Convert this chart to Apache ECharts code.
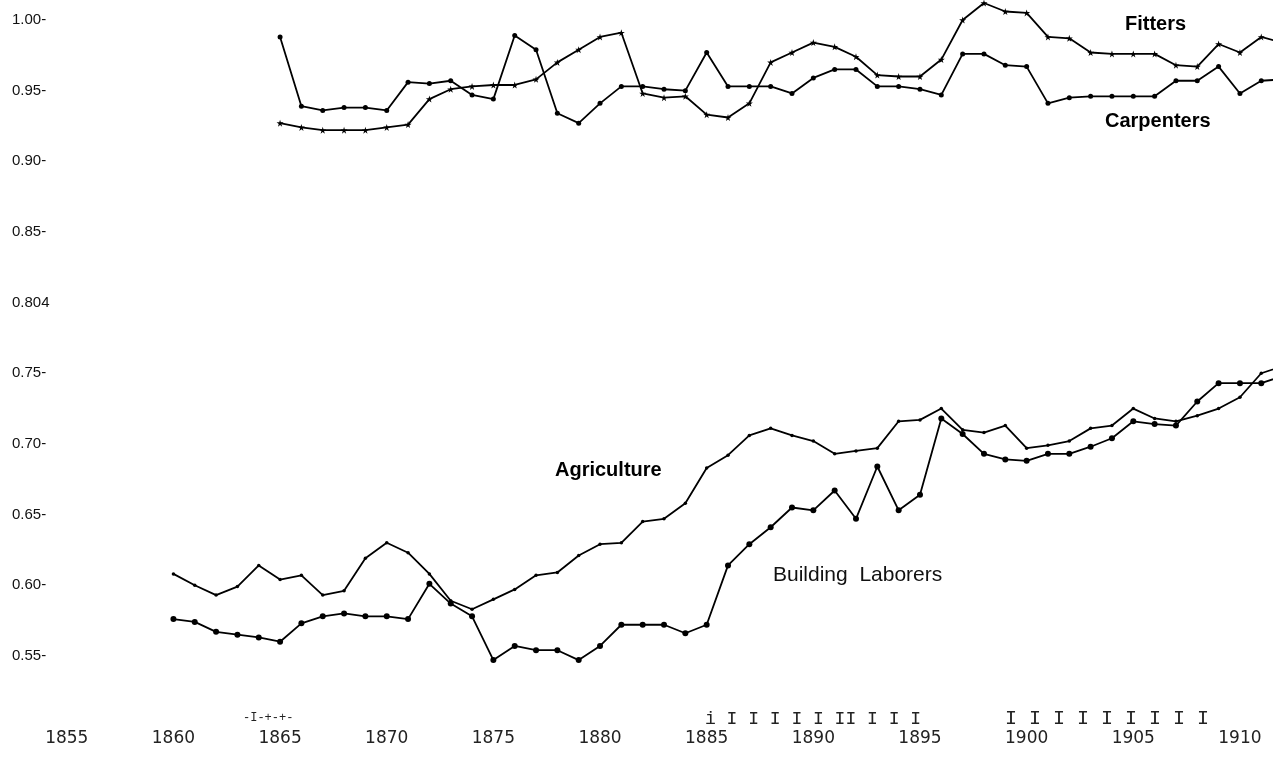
<!DOCTYPE html>
<html>
<head>
<meta charset="utf-8">
<script src="https://cdn.jsdelivr.net/npm/echarts@6/dist/echarts.min.js"></script>
<style>
  html, body { margin: 0; padding: 0; background: #fff; }
  #chart { width: 1273px; height: 775px; }
</style>
</head>
<body>
<div id="chart"></div>
<script>
// 年份轴刻度
var xTicks = [1855, 1860, 1865, 1870, 1875, 1880, 1885, 1890, 1895, 1900, 1905, 1910];

// Fitters / Carpenters: 1865 起
var fittersStart = 1865;
var fitters = [0.927, 0.924, 0.922, 0.922, 0.922, 0.924, 0.926, 0.944, 0.951, 0.953,
    0.954, 0.954, 0.958, 0.970, 0.979, 0.988, 0.991, 0.948, 0.945, 0.946,
    0.933, 0.931, 0.941, 0.970, 0.977, 0.984, 0.981, 0.974, 0.961, 0.960,
    0.960, 0.972, 1.000, 1.012, 1.006, 1.005, 0.988, 0.987, 0.977, 0.976,
    0.976, 0.976, 0.968, 0.967, 0.983, 0.977, 0.988, 0.984];

var carpentersStart = 1865;
var carpenters = [0.988, 0.939, 0.936, 0.938, 0.938, 0.936, 0.956, 0.955, 0.957, 0.947,
    0.944, 0.989, 0.979, 0.934, 0.927, 0.941, 0.953, 0.953, 0.951, 0.950,
    0.977, 0.953, 0.953, 0.953, 0.948, 0.959, 0.965, 0.965, 0.953, 0.953,
    0.951, 0.947, 0.976, 0.976, 0.968, 0.967, 0.941, 0.945, 0.946, 0.946,
    0.946, 0.946, 0.957, 0.957, 0.967, 0.948, 0.957, 0.958];

// Agriculture / Building Laborers: 1860 起
var agricultureStart = 1860;
var agriculture = [0.608, 0.600, 0.593, 0.599, 0.614, 0.604, 0.607, 0.593, 0.596, 0.619,
    0.630, 0.623, 0.608, 0.589, 0.583, 0.590, 0.597, 0.607, 0.609, 0.621,
    0.629, 0.630, 0.645, 0.647, 0.658, 0.683, 0.692, 0.706, 0.711, 0.706,
    0.702, 0.693, 0.695, 0.697, 0.716, 0.717, 0.725, 0.710, 0.708, 0.713,
    0.697, 0.699, 0.702, 0.711, 0.713, 0.725, 0.718, 0.716, 0.720, 0.725,
    0.733, 0.750, 0.755];

var laborersStart = 1860;
var laborers = [0.576, 0.574, 0.567, 0.565, 0.563, 0.560, 0.573, 0.578, 0.580, 0.578,
    0.578, 0.576, 0.601, 0.587, 0.578, 0.547, 0.557, 0.554, 0.554, 0.547,
    0.557, 0.572, 0.572, 0.572, 0.566, 0.572, 0.614, 0.629, 0.641, 0.655,
    0.653, 0.667, 0.647, 0.684, 0.653, 0.664, 0.718, 0.707, 0.693, 0.689,
    0.688, 0.693, 0.693, 0.698, 0.704, 0.716, 0.714, 0.713, 0.730, 0.743,
    0.743, 0.743, 0.748];

function pairs(start, values) {
    return values.map(function (v, i) { return [start + i, v]; });
}

var star = 'path://M50,0 L61,35 L98,35 L68,57 L79,91 L50,70 L21,91 L32,57 L2,35 L39,35 Z';

function line(name, data, symbol, size) {
    return {
        name: name,
        type: 'line',
        data: data,
        symbol: symbol,
        symbolSize: size,
        showSymbol: true,
        itemStyle: { color: '#000' },
        lineStyle: { color: '#000', width: 1.8 },
        emphasis: { disabled: true },
        animation: false
    };
}

var chart = echarts.init(document.getElementById('chart'));
var option = {
    backgroundColor: '#fff',
    animation: false,
    grid: { left: 0, right: 0, top: 0, bottom: 48.5, containLabel: false },
    xAxis: {
        type: 'value',
        min: 1851.87,
        max: 1911.55,
        axisLine: { show: false },
        axisTick: { show: false },
        splitLine: { show: false },
        axisLabel: {
            customValues: xTicks,
            margin: 4,
            color: '#222',
            fontFamily: 'DejaVu Sans',
            fontSize: 17,
            formatter: function (v) { return String(v); }
        }
    },
    yAxis: {
        type: 'value',
        min: 0.5,
        max: 1.01415,
        interval: 0.05,
        axisLine: { show: false },
        axisTick: { show: false },
        splitLine: { show: false },
        axisLabel: {
            inside: true,
            margin: 12,
            color: '#111',
            fontFamily: 'Liberation Sans',
            fontSize: 15,
            formatter: function (v) {
                var k = Math.round(v * 100);
                if (k < 55 || k > 100) return '';
                if (k === 80) return '0.804';
                return (k / 100).toFixed(2) + '-';
            }
        }
    },
    series: [
        line('Fitters', pairs(fittersStart, fitters), star, 7),
        line('Carpenters', pairs(carpentersStart, carpenters), 'circle', 5),
        line('Agriculture', pairs(agricultureStart, agriculture), 'circle', 3.5),
        line('Building Laborers', pairs(laborersStart, laborers), 'circle', 6)
    ],
    graphic: [
        { type: 'text', x: 1125, y: 24, style: { text: 'Fitters', fill: '#000', fontFamily: 'Liberation Sans', fontSize: 20, fontWeight: 'bold', verticalAlign: 'middle' } },
        { type: 'text', x: 1105, y: 121, style: { text: 'Carpenters', fill: '#000', fontFamily: 'Liberation Sans', fontSize: 20, fontWeight: 'bold', verticalAlign: 'middle' } },
        { type: 'text', x: 555, y: 470, style: { text: 'Agriculture', fill: '#000', fontFamily: 'Liberation Sans', fontSize: 20, fontWeight: 'bold', verticalAlign: 'middle' } },
        { type: 'text', x: 773, y: 575, style: { text: 'Building  Laborers', fill: '#111', fontFamily: 'Liberation Sans', fontSize: 21, verticalAlign: 'middle' } },
        // 原图底部的刻度残留字符
        { type: 'text', x: 243, y: 718, style: { text: '-I-+-+-', fill: '#222', fontFamily: 'Liberation Mono', fontSize: 12, verticalAlign: 'middle' } },
        { type: 'text', x: 705, y: 719, style: { text: 'i I I I I I II I I I', fill: '#222', fontFamily: 'Liberation Mono', fontSize: 18, verticalAlign: 'middle' } },
        { type: 'text', x: 1005, y: 719, style: { text: 'I I I I I I I I I', fill: '#222', fontFamily: 'Liberation Mono', fontSize: 20, verticalAlign: 'middle' } }
    ]
};
chart.setOption(option);
</script>
</body>
</html>
